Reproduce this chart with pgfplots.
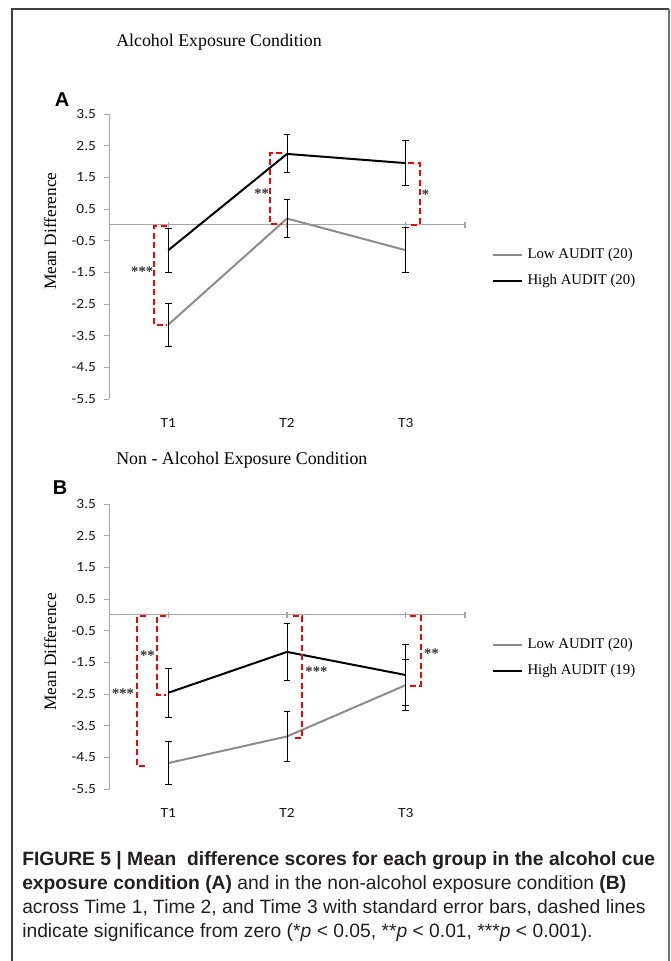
\documentclass[border=0pt]{standalone}
\usepackage{fontspec}
\setmainfont{Liberation Serif}
\newfontfamily\tickfont[FakeStretch=1.1]{Carlito}
\newfontfamily\capfont{Liberation Sans}
\usepackage{pgfplots}
\pgfplotsset{compat=1.18}
\definecolor{lowgray}{HTML}{8C8C8C}
\definecolor{axgray}{HTML}{A6A6A6}
\definecolor{sigred}{HTML}{FF0000}
\definecolor{captxt}{HTML}{231F20}
\definecolor{startxt}{HTML}{333333}

\tikzset{star/.style={font=\bfseries\fontsize{11}{13}\selectfont, inner sep=0pt, text=startxt}}
\pgfplotsset{
  panel/.style={
    scale only axis, width=267pt, height=213.75pt,
    xmin=0.5, xmax=3.5, ymin=-5.5, ymax=3.5,
    axis x line*=bottom, axis y line*=left,
    x axis line style={draw=none},
    y axis line style={draw=axgray, line width=0.75pt},
    xtick={1,2,3}, xticklabels={T1,T2,T3},
    xtick style={draw=none},
    ytick={-5.5,-4.5,-3.5,-2.5,-1.5,-0.5,0.5,1.5,2.5,3.5},
    yticklabels={-5.5,-4.5,-3.5,-2.5,-1.5,-0.5,0.5,1.5,2.5,3.5},
    ytick style={draw=axgray, line width=0.75pt},
    tick align=outside, major tick length=3.75pt,
    ticklabel style={font=\tickfont\fontsize{10.5}{12}\selectfont, text=black!90},
    xticklabel style={yshift=-7pt},
    yticklabel style={xshift=-2.5pt},
    ylabel={Mean Difference},
    clip=false,
    legend style={draw=none, fill=none, at={(axis description cs:1.0758,0.46)}, anchor=west,
      inner sep=0pt, row sep=9.8pt, font=\fontsize{11.1}{13}\selectfont,
      nodes={inner sep=0pt, text height=7.5pt, text depth=2pt},
      /tikz/every odd column/.append style={column sep=3.2pt}},
    legend cell align=left,
    legend image code/.code={\draw[##1] (0pt,0pt) -- (21.75pt,0pt);},
    error bars/y dir=both, error bars/y explicit,
    error bars/error bar style={black, line width=0.75pt},
    error bars/error mark options={black, rotate=90, mark size=2.6pt, line width=0.75pt},
  },
  lowline/.style={lowgray, line width=1.5pt, no markers},
  highline/.style={black, line width=1.5pt, no markers},
  sig/.style={sigred, line width=1.5pt, dash pattern=on 4.5pt off 2.6pt, no markers, forget plot},
}

\begin{document}
\begin{tikzpicture}
\begin{scope}[x=0.75pt, y=-0.75pt]
  \path[use as bounding box] (0,0) rectangle (671,961);
  \draw[line width=1.1pt, black!75] (12,961) -- (12,9) -- (669,9);
  \draw[line width=1.4pt, black!55] (669,9) -- (669,961);
  \node[anchor=base west, inner sep=0pt, font=\fontsize{13.4}{15}\selectfont] at (116,46) {Alcohol Exposure Condition};
  \node[anchor=base west, inner sep=0pt, font=\fontsize{13.4}{15}\selectfont] at (116,464) {Non - Alcohol Exposure Condition};
  \node[font=\capfont\bfseries\fontsize{15}{17}\selectfont] at (62,100) {A};
  \node[font=\capfont\bfseries\fontsize{15}{17}\selectfont] at (60,488) {B};
  \begin{scope}[every node/.style={anchor=base west, inner sep=0pt, text=captxt, font=\capfont\fontsize{14.45}{17}\selectfont}]
    \node at (22,865) {\bfseries FIGURE 5 | Mean\ \ difference scores for each group in the alcohol cue};
    \node at (22,889) {\textbf{exposure condition (A)} and in the non-alcohol exposure condition \textbf{(B)}};
    \node at (22,913) {across Time 1, Time 2, and Time 3 with standard error bars, dashed lines};
    \node at (22,937) {indicate significance from zero (*\textit{p} < 0.05, **\textit{p} < 0.01, ***\textit{p} < 0.001).};
  \end{scope}
\end{scope}

% Panel A
\begin{axis}[panel, at={(81.75pt,-299.25pt)}, anchor=south west,
  ylabel style={at={(axis description cs:-0.1657,0.589)}, anchor=center, rotate=0, font=\fontsize{13}{15}\selectfont}]
  \draw[axgray, line width=0.9pt] (axis cs:0.5,0) -- (axis cs:3.5,0);
  \pgfplotsinvokeforeach{1,2,3,3.5}{\draw[axgray, line width=0.9pt] ([yshift=2.25pt]axis cs:#1,0) -- ([yshift=-2.25pt]axis cs:#1,0);}
  \addplot[lowline] coordinates {(1,-3.15) +- (0,0.68) (2,0.2) +- (0,0.6) (3,-0.8) +- (0,0.71)};
  \addplot[highline] coordinates {(1,-0.8) +- (0,0.7) (2,2.24) +- (0,0.6) (3,1.95) +- (0,0.71)};
  \legend{Low AUDIT (20), High AUDIT (20)}
  \addplot[sig, error bars/y dir=none] coordinates {(0.985,-0.04) (0.88,-0.04) (0.88,-3.15) (0.985,-3.15)};
  \addplot[sig, error bars/y dir=none] coordinates {(1.96,2.28) (1.857,2.28) (1.857,0.02) (1.96,0.02)};
  \addplot[sig, error bars/y dir=none] coordinates {(3.02,1.95) (3.12,1.95) (3.12,0.01) (3.02,0.01)};
  \node[star] at (axis cs:0.78,-1.48) {***};
  \node[star] at (axis cs:1.786,1.0) {**};
  \node[star] at (axis cs:3.168,0.95) {*};
\end{axis}

% Panel B
\begin{axis}[panel, at={(81.75pt,-591.75pt)}, anchor=south west,
  ylabel style={at={(axis description cs:-0.1657,0.482)}, anchor=center, rotate=0, font=\fontsize{13}{15}\selectfont}]
  \draw[axgray, line width=0.9pt] (axis cs:0.5,0) -- (axis cs:3.5,0);
  \pgfplotsinvokeforeach{1,2,3,3.5}{\draw[axgray, line width=0.9pt] ([yshift=2.25pt]axis cs:#1,0) -- ([yshift=-2.25pt]axis cs:#1,0);}
  \addplot[lowline] coordinates {(1,-4.68) +- (0,0.69) (2,-3.84) +- (0,0.8) (3,-2.22) +- (0,0.8)};
  \addplot[highline] coordinates {(1,-2.46) +- (0,0.77) (2,-1.17) +- (0,0.9) (3,-1.9) +- (0,0.96)};
  \legend{Low AUDIT (20), High AUDIT (19)}
  \addplot[sig, error bars/y dir=none] coordinates {(0.815,-0.05) (0.737,-0.05) (0.737,-4.78) (0.815,-4.78)};
  \addplot[sig, error bars/y dir=none] coordinates {(0.98,-0.05) (0.905,-0.05) (0.905,-2.53) (0.98,-2.53)};
  \addplot[sig, error bars/y dir=none] coordinates {(2.05,-0.05) (2.13,-0.05) (2.13,-3.89) (2.05,-3.89)};
  \addplot[sig, error bars/y dir=none] coordinates {(3.04,-0.05) (3.13,-0.05) (3.13,-2.24) (3.04,-2.24)};
  \node[star] at (axis cs:0.618,-2.5) {***};
  \node[star] at (axis cs:0.824,-1.3) {**};
  \node[star] at (axis cs:2.248,-1.79) {***};
  \node[star] at (axis cs:3.218,-1.22) {**};
\end{axis}
\end{tikzpicture}
\end{document}
